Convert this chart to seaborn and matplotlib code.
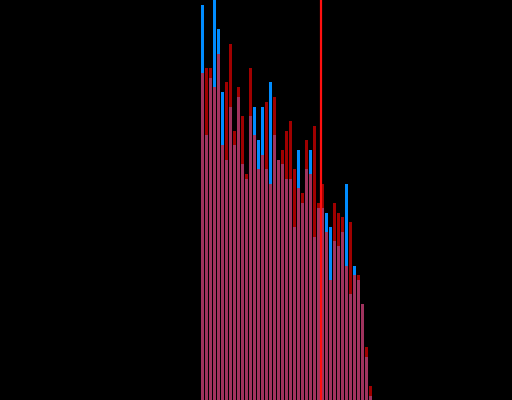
import numpy as np
import seaborn as sns
import matplotlib
matplotlib.use("Agg")
import matplotlib.pyplot as plt

# bar heights (pixel units, 0..400)
bins = list(range(43))
blue_vals = [395, 265, 322, 400, 371, 308, 240, 293, 255, 303, 236, 221, 284, 293, 260,
             293, 231, 318, 265, 240, 236, 221, 221, 173, 250, 197, 231, 250, 163, 192,
             192, 187, 173, 159, 154, 168, 216, 106, 134, 120, 96, 43, 4]
red_vals = [327, 332, 332, 313, 346, 255, 318, 356, 269, 313, 284, 226, 332, 265, 231,
            245, 298, 216, 303, 240, 250, 269, 279, 231, 212, 207, 260, 226, 274, 197,
            216, 168, 120, 197, 187, 183, 134, 178, 125, 125, 96, 53, 14]
cut_at = 29.5

sns.set_style("dark")
fig = plt.figure(figsize=(5.12, 4.0), dpi=100, facecolor="black")
ax = fig.add_axes([0, 0, 1, 1])
ax.set_facecolor("black")

sns.barplot(x=bins, y=blue_vals, color="#008cff", saturation=1, width=0.75,
            linewidth=0, ax=ax)
sns.barplot(x=bins, y=red_vals, color="#ff0000", saturation=1, width=0.75,
            linewidth=0, alpha=0.63, ax=ax)
ax.axvline(cut_at, color="#ff1010", lw=1.6)

ax.set_xlim(-50.625, 77.375)
ax.set_ylim(0, 400)
ax.axis("off")

fig.savefig("out.png", dpi=100, facecolor="black")
